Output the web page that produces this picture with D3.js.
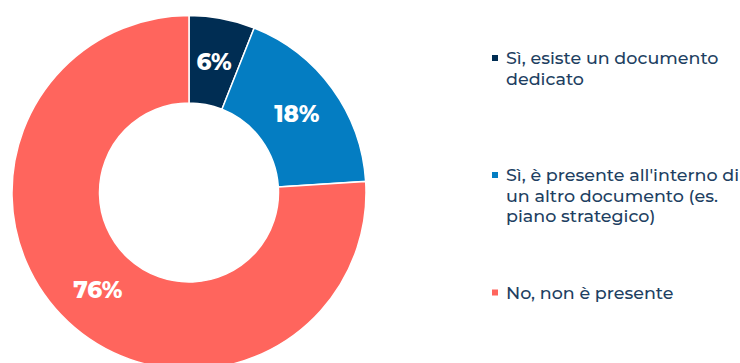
<!DOCTYPE html>
<html>
<head>
<meta charset="utf-8">
<script src="https://cdn.jsdelivr.net/npm/d3@7"></script>
<style>
  html, body { margin: 0; padding: 0; background: #ffffff; }
  svg { display: block; }
</style>
</head>
<body>
<svg id="chart" width="740" height="363"></svg>
<script>
// Answer categories (line breaks mark legend wrapping)
const categories = [
  "Sì, esiste un documento\ndedicato",
  "Sì, è presente all'interno di\nun altro documento (es.\npiano strategico)",
  "No, non è presente"
];
const values = [6, 18, 76];
const colors = ["#002D53", "#047DC2", "#FF655D"];

const svg = d3.select("#chart");
const cx = 189, cy = 192.5;
const outerR = 177, innerR = 89.5;

const pie = d3.pie().sort(null).value(d => d.value);
const arcs = pie(values.map((v, i) => ({ value: v, i })));
const arc = d3.arc().innerRadius(innerR).outerRadius(outerR);
const labelArc = d3.arc().innerRadius((innerR + outerR) / 2).outerRadius((innerR + outerR) / 2);

const g = svg.append("g").attr("transform", `translate(${cx},${cy})`);

g.selectAll("path.slice")
  .data(arcs)
  .join("path")
  .attr("class", "slice")
  .attr("d", arc)
  .attr("fill", d => colors[d.data.i])
  .attr("stroke", "#ffffff")
  .attr("stroke-width", 1.5);

g.selectAll("text.pct")
  .data(arcs)
  .join("text")
  .attr("class", "pct")
  .attr("transform", d => `translate(${labelArc.centroid(d)})`)
  .attr("text-anchor", "middle")
  .attr("dominant-baseline", "central")
  .attr("font-family", "Montserrat, 'Open Sans', Lato, sans-serif")
  .attr("font-weight", 800)
  .attr("font-size", 23)
  .attr("fill", "#ffffff")
  .text(d => d.data.value + "%");

// Legend
const legendY = [58, 175, 292.5];
const legend = svg.append("g").attr("transform", "translate(492,0)");
const items = legend.selectAll("g.item")
  .data(categories)
  .join("g")
  .attr("class", "item")
  .attr("transform", (d, i) => `translate(0,${legendY[i]})`);

items.append("rect")
  .attr("x", 0)
  .attr("y", -3)
  .attr("width", 6)
  .attr("height", 6)
  .attr("fill", (d, i) => colors[i]);

items.append("text")
  .attr("x", 14)
  .attr("font-family", "Montserrat, 'Open Sans', Lato, sans-serif")
  .attr("font-size", 17.5)
  .attr("font-weight", 500)
  .attr("fill", "#1E3F62")
  .selectAll("tspan")
  .data(d => d.split("\n"))
  .join("tspan")
  .attr("x", 14)
  .attr("y", (d, j) => j * 20.5)
  .attr("dy", "0.35em")
  .text(d => d);
</script>
</body>
</html>
